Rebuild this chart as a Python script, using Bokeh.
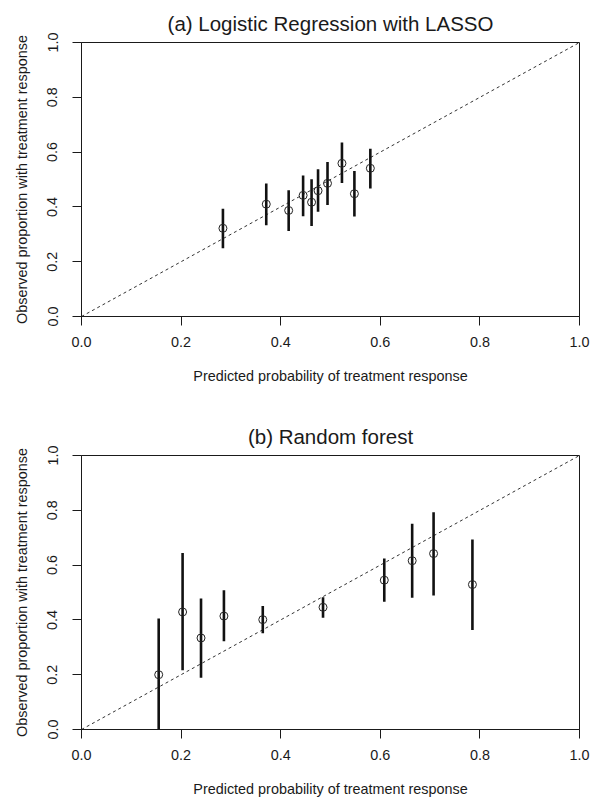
from bokeh.plotting import figure
from bokeh.models import Range1d, FixedTicker, PrintfTickFormatter, ColumnDataSource
from bokeh.layouts import column
from bokeh.embed import file_html
from bokeh.resources import INLINE

# Panel (a): Logistic regression with LASSO
lasso_pred = [0.284, 0.371, 0.416, 0.445, 0.462, 0.475, 0.494, 0.523, 0.548, 0.580]
lasso_obs = [0.322, 0.410, 0.387, 0.442, 0.417, 0.459, 0.486, 0.559, 0.448, 0.541]
lasso_lo = [0.249, 0.333, 0.312, 0.366, 0.330, 0.382, 0.407, 0.487, 0.365, 0.467]
lasso_hi = [0.393, 0.485, 0.461, 0.515, 0.501, 0.537, 0.564, 0.635, 0.531, 0.612]

# Panel (b): Random forest
rf_pred = [0.155, 0.203, 0.240, 0.286, 0.364, 0.485, 0.608, 0.664, 0.707, 0.785]
rf_obs = [0.200, 0.429, 0.334, 0.414, 0.401, 0.446, 0.545, 0.616, 0.642, 0.529]
rf_lo = [0.000, 0.216, 0.189, 0.322, 0.351, 0.408, 0.466, 0.481, 0.489, 0.363]
rf_hi = [0.405, 0.644, 0.478, 0.508, 0.451, 0.483, 0.624, 0.751, 0.793, 0.693]

diag = [0.0, 1.0]
tick_values = [0.0, 0.2, 0.4, 0.6, 0.8, 1.0]

FONT = "Liberation Sans"
INK = "#1a1a1a"


def make_panel(title, pred, obs, lo, hi, height, b_top, b_bottom):
    p = figure(width=592, height=height, output_backend="svg", toolbar_location=None,
               x_range=Range1d(0, 1), y_range=Range1d(0, 1),
               min_border_left=81, min_border_right=13,
               min_border_top=b_top, min_border_bottom=b_bottom,
               title=title)
    p.grid.visible = False
    p.background_fill_color = "white"
    p.border_fill_color = "white"
    p.outline_line_color = INK
    p.outline_line_width = 1
    p.outline_line_alpha = 1

    p.title.text_font = FONT
    p.title.text_font_size = "20.5px"
    p.title.text_font_style = "normal"
    p.title.text_color = INK
    p.title.align = "center"
    p.title.standoff = 16

    for ax in (p.xaxis, p.yaxis):
        ax.ticker = FixedTicker(ticks=tick_values)
        ax.formatter = PrintfTickFormatter(format="%.1f")
        ax.axis_line_color = INK
        ax.major_tick_line_color = INK
        ax.major_tick_in = 0
        ax.major_tick_out = 9
        ax.minor_tick_line_color = None
        ax.major_label_text_font = FONT
        ax.major_label_text_font_size = "14.4px"
        ax.major_label_text_color = INK
        ax.axis_label_text_font = FONT
        ax.axis_label_text_font_size = "14.4px"
        ax.axis_label_text_font_style = "normal"
        ax.axis_label_text_color = INK

    p.xaxis.axis_label = "Predicted probability of treatment response"
    p.yaxis.axis_label = "Observed proportion with treatment response"
    p.xaxis.major_label_standoff = 11
    p.xaxis.axis_label_standoff = 18
    p.yaxis.major_label_orientation = "vertical"
    p.yaxis.major_label_standoff = 15
    p.yaxis.axis_label_standoff = 15

    p.line(diag, diag, line_dash="3 3", line_color="#333333", line_width=1)

    src = ColumnDataSource(dict(x=pred, y=obs, lo=lo, hi=hi))
    p.segment(x0="x", y0="lo", x1="x", y1="hi", source=src,
              line_color="#111111", line_width=2.6)
    p.scatter(x="x", y="y", source=src, marker="circle", size=8,
              fill_color="white", fill_alpha=0, line_color="#222222", line_width=1)
    return p


p1 = make_panel("(a) Logistic Regression with LASSO", lasso_pred, lasso_obs, lasso_lo, lasso_hi,
                height=400, b_top=42, b_bottom=84)
p2 = make_panel("(b) Random forest", rf_pred, rf_obs, rf_lo, rf_hi,
                height=402, b_top=55, b_bottom=73)

layout = column(p1, p2, spacing=0)
open("out.html", "w").write(file_html(layout, INLINE))
